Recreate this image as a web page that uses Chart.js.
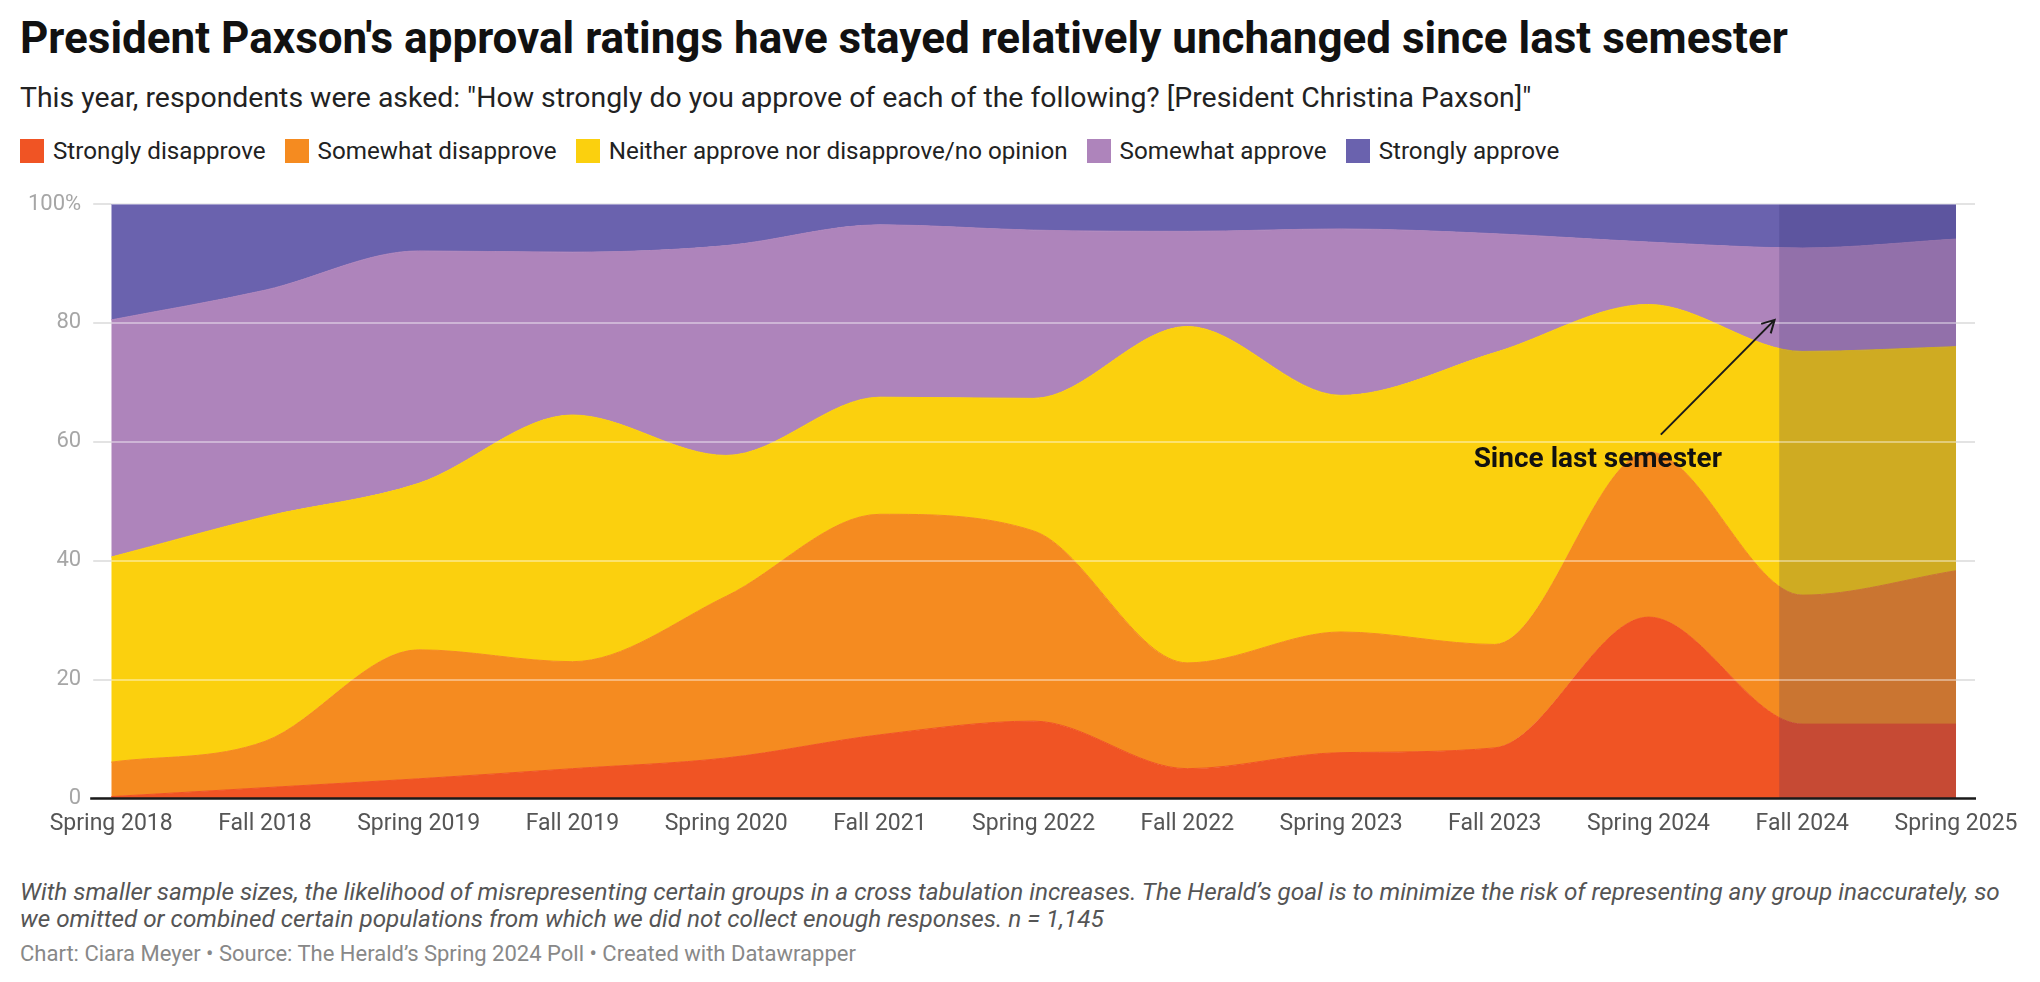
<!DOCTYPE html>
<html lang="en">
<head>
  <meta charset="UTF-8">
  <title>President Paxson's approval ratings</title>
  <script src="https://cdn.jsdelivr.net/npm/chart.js"></script>
  <style>
    body {
      margin: 0;
      width: 2040px;
      height: 982px;
      background: #ffffff;
      font-family: Roboto, 'Noto Sans', sans-serif;
      position: relative;
      overflow: hidden;
    }
    h1 {
      position: absolute;
      left: 20px;
      top: 12px;
      margin: 0;
      font-size: 44px;
      font-weight: 700;
      color: #111;
    }
    .sub {
      position: absolute;
      left: 20px;
      top: 81px;
      font-size: 28.4px;
      color: #222;
    }
    .legend {
      position: absolute;
      left: 20px;
      top: 137px;
      display: flex;
      font-size: 24.2px;
      color: #222;
    }
    .legend .item {
      display: flex;
      align-items: center;
      margin-right: 19px;
    }
    .legend i {
      display: inline-block;
      width: 24px;
      height: 24px;
      margin-right: 9px;
    }
    .chart-wrap {
      position: absolute;
      left: 0;
      top: 178px;
      width: 2040px;
      height: 672px;
    }
    .notes {
      position: absolute;
      left: 20px;
      top: 878px;
      font-size: 24.3px;
      font-style: italic;
      color: #555;
      line-height: 27px;
    }
    .credit {
      position: absolute;
      left: 20px;
      top: 941px;
      font-size: 22px;
      color: #888;
    }
  </style>
</head>
<body>

<h1>President Paxson's approval ratings have stayed relatively unchanged since last semester</h1>
<div class="sub">This year, respondents were asked: "How strongly do you approve of each of the following? [President Christina Paxson]"</div>
<div class="legend" id="legend"></div>

<div class="chart-wrap">
  <canvas id="approval"></canvas>
</div>

<div class="notes">With smaller sample sizes, the likelihood of misrepresenting certain groups in a cross tabulation increases. The Herald’s goal is to minimize the risk of representing any group inaccurately, so<br>we omitted or combined certain populations from which we did not collect enough responses. n = 1,145</div>
<div class="credit">Chart: Ciara Meyer • Source: The Herald’s Spring 2024 Poll • Created with Datawrapper</div>

<script>
  const seasons = ['Spring 2018', 'Fall 2018', 'Spring 2019', 'Fall 2019', 'Spring 2020', 'Fall 2021',
    'Spring 2022', 'Fall 2022', 'Spring 2023', 'Fall 2023', 'Spring 2024', 'Fall 2024', 'Spring 2025'];

  const stronglyDisapprove = [0.3, 1.8, 3.3, 5.0, 6.8, 10.7, 13.0, 5.0, 7.7, 8.5, 30.5, 12.5, 12.5];
  const somewhatDisapprove = [5.8, 7.8, 21.7, 18.0, 27.2, 37.1, 32.0, 17.8, 20.3, 17.4, 27.8, 21.7, 25.8];
  const neither = [34.5, 37.8, 28.0, 41.5, 23.7, 19.7, 22.3, 56.6, 39.8, 49.1, 24.8, 41.0, 37.7];
  const somewhatApprove = [39.9, 38.1, 39.1, 27.4, 35.3, 29.0, 28.3, 16.0, 28.0, 20.0, 10.5, 17.4, 18.1];
  const stronglyApprove = [19.5, 14.5, 7.9, 8.1, 7.0, 3.5, 4.4, 4.6, 4.2, 5.0, 6.4, 7.4, 5.9];

  const seriesNames = ['Strongly disapprove', 'Somewhat disapprove', 'Neither approve nor disapprove/no opinion',
    'Somewhat approve', 'Strongly approve'];
  const seriesValues = [stronglyDisapprove, somewhatDisapprove, neither, somewhatApprove, stronglyApprove];
  const seriesColors = ['#f05424', '#f58b20', '#fbd00e', '#ae84bb', '#6a62ae'];

  const yTicks = [0, 20, 40, 60, 80, 100];

  // shaded "since last semester" band, in category index units
  const bandStart = 10.85;
  const bandEnd = 12;

  // annotation: text anchor and arrow, in category index / percent
  const noteText = 'Since last semester';
  const notePos = [9.67, 57.0];
  const arrowFrom = [10.08, 61.2];
  const arrowTo = [10.82, 80.5];

  // legend
  const legendEl = document.getElementById('legend');
  seriesNames.forEach((name, i) => {
    const item = document.createElement('span');
    item.className = 'item';
    item.innerHTML = '<i style="background:' + seriesColors[i] + '"></i>' + name;
    legendEl.appendChild(item);
  });

  const overlays = {
    id: 'overlays',
    afterDatasetsDraw(chart) {
      const { ctx, chartArea: a, scales: { x, y } } = chart;
      ctx.save();

      // highlight band
      const bx0 = x.getPixelForValue(bandStart);
      const bx1 = x.getPixelForValue(bandEnd);
      ctx.fillStyle = 'rgba(50, 40, 110, 0.22)';
      ctx.fillRect(bx0, a.top, bx1 - bx0, a.bottom - a.top);

      // gridlines on top of the areas
      yTicks.forEach(v => {
        if (v === 0) return;
        const py = Math.round(y.getPixelForValue(v));
        ctx.strokeStyle = 'rgba(255, 255, 255, 0.4)';
        ctx.lineWidth = 2;
        ctx.beginPath();
        ctx.moveTo(a.left, py);
        ctx.lineTo(a.right, py);
        ctx.stroke();
        ctx.strokeStyle = '#e3e3e3';
        ctx.beginPath();
        ctx.moveTo(a.right, py);
        ctx.lineTo(a.right + 19, py);
        ctx.stroke();
      });

      // baseline
      const y0 = y.getPixelForValue(0);
      ctx.strokeStyle = '#1a1a1a';
      ctx.lineWidth = 2.5;
      ctx.beginPath();
      ctx.moveTo(a.left - 21, y0);
      ctx.lineTo(a.right + 20, y0);
      ctx.stroke();

      // arrow
      const ax0 = x.getPixelForValue(arrowFrom[0]), ay0 = y.getPixelForValue(arrowFrom[1]);
      const ax1 = x.getPixelForValue(arrowTo[0]), ay1 = y.getPixelForValue(arrowTo[1]);
      ctx.strokeStyle = '#1a1a1a';
      ctx.lineWidth = 2;
      ctx.beginPath();
      ctx.moveTo(ax0, ay0);
      ctx.lineTo(ax1, ay1);
      const ang = Math.atan2(ay1 - ay0, ax1 - ax0);
      const head = 14;
      ctx.moveTo(ax1 - head * Math.cos(ang - 0.5), ay1 - head * Math.sin(ang - 0.5));
      ctx.lineTo(ax1, ay1);
      ctx.lineTo(ax1 - head * Math.cos(ang + 0.5), ay1 - head * Math.sin(ang + 0.5));
      ctx.stroke();

      // annotation text
      ctx.fillStyle = '#111';
      ctx.font = 'bold 28px Roboto';
      ctx.textAlign = 'center';
      ctx.textBaseline = 'middle';
      ctx.fillText(noteText, x.getPixelForValue(notePos[0]), y.getPixelForValue(notePos[1]));

      ctx.restore();
    }
  };

  const ctx = document.getElementById('approval').getContext('2d');
  const approvalChart = new Chart(ctx, {
    type: 'line',
    data: {
      labels: seasons,
      datasets: seriesValues.map((vals, i) => ({
        label: seriesNames[i],
        data: vals,
        backgroundColor: seriesColors[i],
        borderColor: seriesColors[i],
        borderWidth: 1,
        pointRadius: 0,
        fill: i === 0 ? 'origin' : '-1',
        cubicInterpolationMode: 'monotone'
      }))
    },
    options: {
      responsive: true,
      maintainAspectRatio: false,
      animation: false,
      devicePixelRatio: 1,
      layout: { padding: { left: 16, right: 84, top: 26, bottom: 0 } },
      plugins: {
        legend: { display: false },
        tooltip: { enabled: false }
      },
      scales: {
        x: {
          offset: false,
          grid: { display: false, drawTicks: false },
          border: { display: false },
          ticks: {
            color: '#555',
            font: { family: 'Roboto', size: 23 },
            padding: 12,
            maxRotation: 0,
            autoSkip: false
          }
        },
        y: {
          stacked: true,
          min: 0,
          max: 100,
          grid: { color: '#e3e3e3', lineWidth: 2, tickLength: 18 },
          border: { display: false },
          ticks: {
            stepSize: 20,
            color: '#a6a6a6',
            font: { family: 'Roboto', size: 22 },
            padding: 12,
            callback: v => v === 100 ? '100%' : v
          }
        }
      }
    },
    plugins: [overlays]
  });
</script>

</body>
</html>
